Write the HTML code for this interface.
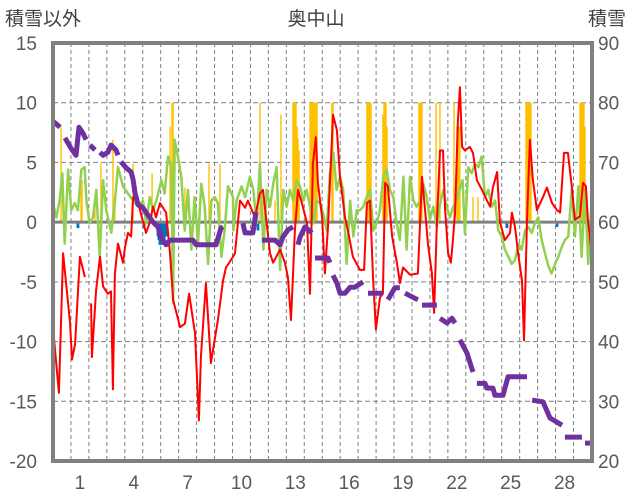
<!DOCTYPE html>
<html><head><meta charset="utf-8">
<style>
html,body{margin:0;padding:0;background:#fff;}
svg{display:block;font-family:"Liberation Sans","Noto Sans CJK JP",sans-serif;}
</style></head>
<body>
<svg id="chart" width="636" height="501" viewBox="0 0 636 501" xmlns="http://www.w3.org/2000/svg">
<text x="5" y="25" font-size="19" fill="#404040">積雪以外</text>
<text x="316" y="25" font-size="19" fill="#404040" text-anchor="middle">奥中山</text>
<text x="588" y="25" font-size="19" fill="#404040">積雪</text>
<g id="grid"></g>
<g id="bars"></g>
<g id="lines"></g>
<g id="axes"></g>
</svg>
<script>
// ---- data ----
const leftTicks=[15,10,5,0,-5,-10,-15,-20];
const rightTicks=[90,80,70,60,50,40,30,20];
const dayLabels=[1,4,7,10,13,16,19,22,25,28];
const redT=[0,.33,.56,.95,1.06,1.23,1.5,1.78,null,2.12,2.17,2.4,2.62,2.79,3.06,3.23,3.34,3.45,3.62,3.9,4.01,4.18,4.35,4.46,4.74,5.18,5.4,5.57,5.74,5.96,6.3,6.52,6.69,7.08,7.35,7.58,7.91,8.13,8.24,8.52,8.8,9.19,9.47,9.64,10.03,10.14,10.42,10.7,10.86,11.25,11.53,11.7,12.09,12.26,12.65,12.92,13.09,13.26,13.48,13.65,13.87,14.15,14.32,14.48,14.65,14.76,14.99,15.15,15.32,15.6,15.82,15.99,16.27,16.43,16.71,17.1,17.33,17.49,17.66,17.83,17.99,18.22,18.38,18.5,18.66,18.89,19.16,19.33,19.5,19.89,20.33,20.56,20.72,20.89,21.11,21.23,21.39,21.56,21.73,21.84,22.01,22.17,22.28,22.4,22.56,22.67,22.79,22.95,23.23,23.4,23.62,23.9,24.18,24.35,24.51,24.74,24.9,25.18,25.46,25.57,25.74,25.91,26.13,26.24,26.41,26.57,26.74,26.96,27.3,27.52,27.8,28.08,28.25,28.47,28.69,28.91,29.08,29.36,29.53,29.69,29.8,30.03];
const redV=[-8.8,-14.3,-2.6,-8.5,-11.5,-10.2,-2.9,-4.6,null,-6.8,-11.3,-5.7,-2.9,-5.4,-6,-5.8,-14,-4.3,-1.8,-3.4,-2.1,-0.9,-1.2,2.1,1.6,-0.9,0,1.3,0.4,1.6,0.8,-2.6,-6.5,-8.8,-8.5,-6,-9.3,-16.6,-11.3,-5.1,-11.8,-8.2,-4.9,-3.8,-2.9,-2.6,1.8,1.2,1.8,0.4,2.4,2.7,-2.6,-3.4,-2.3,-3.4,-4.6,-8.2,-0.7,2.7,1.6,-0.1,-6,4.9,7.1,3.3,0.4,-4.3,-0.4,9,7.7,3.8,0.4,-0.7,-2.9,-4,-4,1.6,1.8,-4.6,-9,-6.3,-6,3.3,3,-1.2,-3.4,-5.1,-3.8,-4.4,-4.3,3.8,1.2,-1.8,-4.3,-7.6,0,6,6,1.2,-2.6,-3.4,-1.5,0.8,8.5,11.3,6.3,6,6.3,5.8,3.5,2.7,1.8,1.3,2.9,4.2,0,-1.5,-0.9,0.8,-0.4,-2.6,-4.9,-9.9,0.2,6.9,3.5,1,2.1,2.9,1.6,1,0.8,5.8,5.8,2.9,0.2,0.5,3.3,3,0.2,-2.9];
const greenT=[0,.19,.37,.52,.65,.84,1.02,1.21,1.39,1.58,1.76,1.86,2.04,2.23,2.41,2.6,2.79,2.97,3.25,3.44,3.62,3.9,4.18,4.46,4.74,5.01,5.2,5.39,5.57,5.76,6.04,6.22,6.41,6.59,6.69,6.78,6.96,7.15,7.34,7.52,7.71,7.89,8.08,8.26,8.45,8.64,8.82,9.01,9.19,9.38,9.56,9.75,10.03,
10.05,10.23,10.51,10.7,10.97,11.16,11.35,11.53,11.72,11.9,12.09,12.27,12.46,12.65,12.83,13.02,13.2,13.39,13.57,13.76,13.95,14.13,14.32,14.5,14.69,14.87,15.06,15.25,15.43,15.62,15.8,15.99,16.17,16.36,16.55,16.73,16.92,17.1,17.29,17.47,17.66,17.85,18.03,18.22,18.4,18.59,18.77,18.96,19.15,19.33,19.52,19.7,
19.89,20.08,20.26,20.45,20.63,20.82,21.0,21.19,21.38,21.56,21.75,21.93,22.12,22.3,22.49,22.68,22.82,22.95,23.14,23.33,23.51,23.7,23.88,24.07,24.25,24.44,24.63,24.81,25.0,25.18,25.37,25.55,25.74,25.93,26.11,26.3,26.48,26.67,26.85,27.04,27.23,27.41,27.6,27.78,27.97,28.15,28.34,28.52,28.71,28.9,29.08,29.27,29.45,29.64,29.82,30.01];
const greenV=[1.6,0.4,1.8,4.1,-1.8,4.4,1,1.6,1,4.4,4.6,1.8,-0.1,0.4,2.7,-2.9,3.5,1,-0.9,1.6,4.6,3,2.4,1.8,1.3,1.8,-0.1,2.1,1,1.8,3.5,2.4,5.5,4.6,-6.8,6.9,5.5,3.8,-0.7,2.7,-2.3,2.1,-1.8,3.2,1.3,-3.5,1.8,2.1,1.6,-2.9,-0.7,3,2.1,
-0.7,1.8,3,2.1,3.8,2.7,-0.1,4.9,-2.3,2.7,1.3,3.2,4.6,-4,2.7,1.3,2.7,1.8,3.5,3,1.8,2.7,1.3,-0.1,1.8,1.6,0.7,-0.7,4.1,5.8,2.7,3.8,2.7,-3.5,1.8,-1.2,1,1,1.3,2.1,2.7,-0.7,-0.1,1,3.8,4.4,2.7,2.1,-0.1,-1.5,3.8,-2.3,3.8,
1.8,1.3,1.8,3.2,2.1,0.2,1.3,-0.4,1.5,2.7,1.3,0.4,1.3,1.8,2.9,3.5,-1,4.6,4.1,4.9,4.6,5.5,2.1,2.7,1.3,1.8,-0.7,-1.2,-2.3,-2.9,-3.5,-3.2,-1.8,-2.3,-0.7,-0.4,-0.9,-0.1,0.4,-1.5,-2.6,-3.7,-4.3,-3.5,-2.9,-2.1,-1.5,-1.2,2.7,-1.2,3,-2.9,2.7,-3.5,1.8,-1.2];
const depthT=[0,.39,null,.67,1.0,1.28,1.45,1.67,1.84,null,2.06,2.34,null,2.62,2.79,3.06,3.23,3.51,3.62,null,3.79,4.07,4.35,4.46,4.57,4.74,5.01,5.29,5.57,5.85,6.02,6.3,6.52,7.8,7.97,9.08,9.36,9.47,null,10.58,10.7,11.14,11.31,null,11.64,12.37,12.65,12.81,13.09,13.37,null,13.65,13.76,14.04,14.43,null,14.6,15.32,15.43,null,15.6,15.82,15.99,16.27,16.55,16.82,17.27,null,17.55,18.38,null,18.66,19.05,19.33,null,19.61,20.33,null,20.56,21.39,null,21.56,21.95,22.23,22.4,null,22.67,23.06,23.4,null,23.62,24.07,24.18,24.51,24.62,25.07,25.35,26.41,null,26.69,27.3,27.69,28.36,null,28.52,29.47,null,29.64,30.03];
const depthV=[76.9,75.9,null,74.1,72.4,71.2,75.9,74.9,73.8,null,72.9,72.1,null,71.7,71.2,71.7,72.9,72.1,71.2,null,70.1,69.1,68.4,67.1,64.9,62.9,62.4,61.2,60,59.2,57.5,56.2,57,57,56.2,56.2,59,59.2,null,59.8,58.2,58.2,61.7,null,57,57,56.2,57.5,58.7,59.2,null,56.2,57.5,59.2,58.2,null,54,54,53.2,null,51.1,49.8,48.1,48.1,49.1,49.1,50,null,48.1,48.1,null,47,49,49,null,48.1,47,null,46.1,46.1,null,43.9,43.1,43.9,43.1,null,40.3,38.1,34.9,null,33,33,32.2,32.2,31,31,34.1,34.1,null,30.2,29.9,27.2,26,null,24,24,null,23,23];
const snowT=[.45,.56,1.56,1.62,2.34,2.67,3.34,3.45,4.46,5.52,6.52,6.63,6.69,7.35,8.69,9.3,11.53,11.7,12.37,12.7,13.37,13.43,13.48,13.54,13.6,13.65,13.71,14.32,14.37,14.43,14.48,14.54,14.6,14.65,14.71,15.54,15.6,17.49,17.55,17.6,17.66,17.72,18.38,18.44,18.5,18.55,18.61,20.39,20.45,20.5,20.56,21.34,21.56,22.34,22.51,22.56,22.62,22.67,23.4,23.68,26.35,26.41,26.46,26.52,26.57,26.63,29.36,29.42,29.47,29.53,29.58,29.64];
const snowV=[8,2.9,2.8,3.5,1.8,4.9,6.9,1.8,4.9,4.1,8,10,10,2.9,4.9,4.9,10,1.8,1.8,9,10,10,10,10,8,7,6,10,10,10,10,10,10,10,10,10,10,10,10,10,10,10,9,10,10,10,8,10,10,10,10,10,10,10,8,8,8,8,2.1,2.1,10,10,10,10,10,10,10,10,10,10,10,8];
const meltT=[1.39,5.07,5.85,5.9,5.96,6.02,6.07,6.13,6.19,6.24,6.3,11.42,25.29,28.08];
const meltV=[-0.5,-0.5,-1.2,-1.5,-1.9,-1.9,-1.9,-1.9,-1.9,-1.2,-1.2,-0.7,-0.5,-0.4];

// ---- scales ----
const X0=53,X1=592,Y0=43,Y1=461,DAYS=30.03;
const xs=t=>X0+(X1-X0)*t/DAYS;
const yl=v=>Y0+(Y1-Y0)*(15-v)/35;
const yr=v=>Y0+(Y1-Y0)*(90-v)/70;
const NS='http://www.w3.org/2000/svg';
function mk(tag,parent,attrs){const e=document.createElementNS(NS,tag);for(const k in attrs)e.setAttribute(k,attrs[k]);parent.appendChild(e);return e;}
const grid=document.getElementById('grid'),bars=document.getElementById('bars'),lines=document.getElementById('lines'),axes=document.getElementById('axes');

for(let d=1;d<30;d++){
  const l=mk('line',grid,{x1:xs(d),x2:xs(d),y1:Y0,y2:Y1,stroke:'#808080','stroke-width':1,'stroke-dasharray':'4,3'});
  
  
}
leftTicks.forEach(v=>{
  if(v!==15&&v!==-20&&v!==0){
    const l=mk('line',grid,{x1:X0,x2:X1,y1:yl(v),y2:yl(v),stroke:'#808080','stroke-width':1,'stroke-dasharray':'5,3'});
    
    
  }
  const t=mk('text',axes,{x:37,y:yl(v)+7,'font-size':19,fill:'#595959','text-anchor':'end'});
  t.textContent=v;
  
  
});
rightTicks.forEach(v=>{
  const t=mk('text',axes,{x:598,y:yr(v)+7,'font-size':19,fill:'#595959'});
  t.textContent=v;
  
  
});
dayLabels.forEach(d=>{
  const t=mk('text',axes,{x:xs(d+0.5),y:489,'font-size':19,fill:'#595959','text-anchor':'middle'});
  t.textContent=d;
  
  
});

const bw=1.4;
snowT.forEach((t,i)=>{
  const y=yl(snowV[i]);
  const r=mk('rect',bars,{x:xs(t)-bw/2,y:y,width:bw,height:yl(0)-y,fill:'#ffc000'});
  
  
});
meltT.forEach((t,i)=>{
  const y=yl(meltV[i]);
  const r=mk('rect',bars,{x:xs(t)-bw,y:yl(0),width:bw*2,height:y-yl(0),fill:'#0070c0'});
  
  
});
const z=mk('line',bars,{x1:X0,x2:X1,y1:yl(0),y2:yl(0),stroke:'#808080','stroke-width':3});



function pathFrom(T,V,yf){let d='',pen=false;for(let i=0;i<T.length;i++){if(T[i]===null||V[i]===null){pen=false;continue;}d+=(pen?'L':'M')+xs(T[i]).toFixed(1)+' '+yf(V[i]).toFixed(1);pen=true;}return d;}
const g=mk('path',lines,{d:pathFrom(greenT,greenV,yl),fill:'none',stroke:'#92d050','stroke-width':2.5,'stroke-linejoin':'round'});


const rd=mk('path',lines,{d:pathFrom(redT,redV,yl),fill:'none',stroke:'#ff0000','stroke-width':2,'stroke-linejoin':'round'});


const p=mk('path',lines,{d:pathFrom(depthT,depthV,yr),fill:'none',stroke:'#7030a0','stroke-width':5,'stroke-linejoin':'round'});



const f=mk('rect',axes,{x:X0,y:Y0,width:X1-X0,height:Y1-Y0,fill:'none',stroke:'#808080','stroke-width':4});


</script>
</body></html>
